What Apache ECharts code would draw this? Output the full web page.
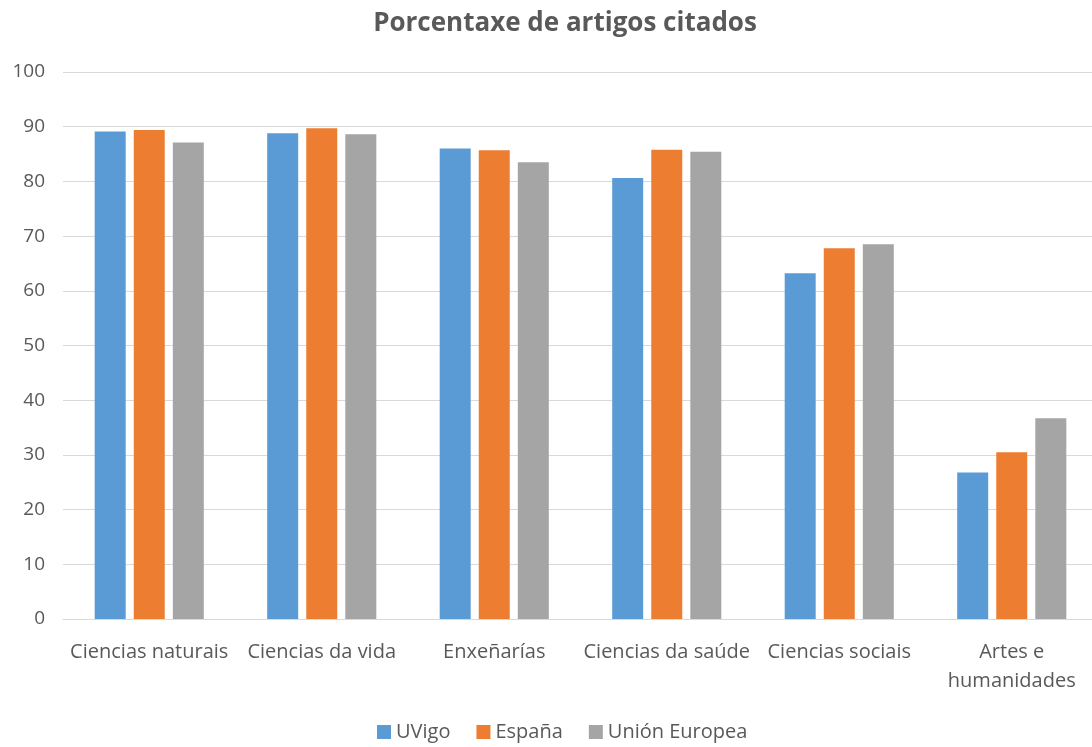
<!DOCTYPE html>
<html>
<head>
<meta charset="utf-8">
<script src="https://cdn.jsdelivr.net/npm/echarts@6/dist/echarts.min.js"></script>
<style>
  html, body { margin: 0; padding: 0; background: #fff; }
  #main { width: 1092px; height: 747px; }
</style>
</head>
<body>
<div id="main"></div>
<script>
const categories = ['Ciencias naturais', 'Ciencias da vida', 'Enxeñarías', 'Ciencias da saúde', 'Ciencias sociais', 'Artes e\nhumanidades']
const uvigo = [89.1, 88.8, 86.0, 80.6, 63.2, 26.8]
const espana = [89.4, 89.7, 85.7, 85.8, 67.8, 30.5]
const ue = [87.1, 88.6, 83.5, 85.4, 68.5, 36.7]

const font = '"Open Sans", sans-serif'
const myChart = echarts.init(document.getElementById('main'))
const option = {
  animation: false,
  title: {
    text: 'Porcentaxe de artigos citados',
    left: 560,
    textAlign: 'center',
    top: 6,
    textStyle: { fontFamily: font, fontSize: 26, fontWeight: 'bold', color: '#595959' },
  },
  legend: {
    bottom: 0,
    left: 372,
    itemWidth: 14,
    itemHeight: 14,
    itemGap: 26,
    icon: 'rect',
    textStyle: { fontFamily: font, fontSize: 20, color: '#595959' },
    data: ['UVigo', 'España', 'Unión Europea'],
  },
  grid: { left: 63, right: -6, top: 72, bottom: 128, outerBoundsMode: 'none' },
  xAxis: {
    type: 'category',
    data: categories,
    axisTick: { show: false },
    axisLine: { lineStyle: { color: '#d9d9d9', width: 1 } },
    axisLabel: { fontFamily: font, fontSize: 20, color: '#595959', margin: 19, interval: 0, lineHeight: 29 },
  },
  yAxis: {
    type: 'value',
    min: 0,
    max: 100,
    interval: 10,
    axisLine: { show: false },
    axisTick: { show: false },
    splitLine: { lineStyle: { color: '#d9d9d9', width: 1 } },
    axisLabel: { fontFamily: font, fontSize: 19, color: '#595959', margin: 18 },
  },
  series: [
    { name: 'UVigo', type: 'bar', data: uvigo, barWidth: 31, barGap: '26%', itemStyle: { color: '#5b9bd5' } },
    { name: 'España', type: 'bar', data: espana, barWidth: 31, barGap: '26%', itemStyle: { color: '#ed7d31' } },
    { name: 'Unión Europea', type: 'bar', data: ue, barWidth: 31, barGap: '26%', itemStyle: { color: '#a5a5a5' } },
  ],
}
myChart.setOption(option)
</script>
</body>
</html>
